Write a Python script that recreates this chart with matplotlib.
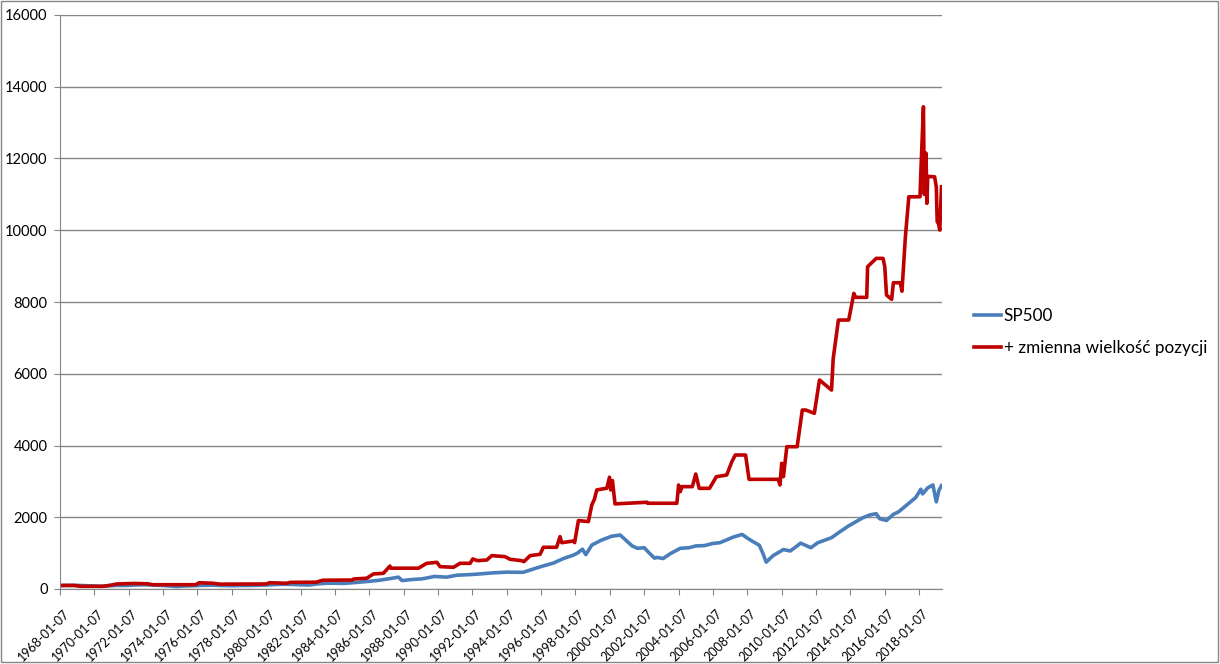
import matplotlib
matplotlib.use("Agg")
import matplotlib.pyplot as plt
from matplotlib.patches import Rectangle
from matplotlib.transforms import ScaledTranslation

plt.rcParams['font.family'] = ['Lato', 'DejaVu Sans']

# dates as decimal years
sp_t = [1968.0, 1968.5, 1969.0, 1969.5, 1970.0, 1970.4, 1970.9, 1971.3, 1971.8, 1972.3, 1972.9,
        1973.4, 1973.9, 1974.4, 1974.8, 1975.3, 1975.8, 1976.3, 1976.9, 1977.4, 1978.0, 1978.6,
        1979.2, 1979.8, 1980.2, 1980.9, 1981.5, 1982.0, 1982.5, 1982.9, 1983.5, 1984.0, 1984.5,
        1985.3, 1985.9, 1986.6, 1987.2, 1987.7, 1987.9, 1988.5, 1989.1, 1989.8, 1990.5, 1991.1,
        1991.8, 1992.3, 1993.2, 1994.0, 1994.95, 1995.5, 1996.1, 1996.7, 1997.3, 1997.8, 1998.1,
        1998.4, 1998.6, 1998.95, 1999.5, 2000.1, 2000.6, 2001.0, 2001.3, 2001.6, 2002.0, 2002.3,
        2002.6, 2002.75, 2003.1, 2003.5, 2004.1, 2004.6, 2005.0, 2005.5, 2006.0, 2006.4, 2006.8,
        2007.2, 2007.7, 2008.0, 2008.3, 2008.7, 2008.9, 2009.1, 2009.5, 2010.1, 2010.5, 2010.9,
        2011.1, 2011.7, 2012.1, 2012.5, 2012.9, 2013.4, 2013.9, 2014.3, 2014.7, 2015.1, 2015.5,
        2015.7, 2016.1, 2016.5, 2016.8, 2017.4, 2017.8, 2018.1, 2018.2, 2018.5, 2018.8, 2019.0,
        2019.15, 2019.3]
sp_v = [95, 100, 102, 92, 85, 75, 90, 100, 98, 110, 118,
        108, 100, 85, 68, 85, 92, 102, 106, 98, 92, 98,
        100, 108, 115, 132, 128, 118, 112, 138, 160, 162, 155,
        185, 210, 245, 290, 330, 235, 265, 285, 350, 330, 385,
        400, 415, 450, 470, 465, 550, 640, 720, 850, 930, 995,
        1110, 960, 1225, 1360, 1470, 1505, 1330, 1200, 1135, 1150, 1000,
        860, 880, 850, 980, 1135, 1150, 1200, 1210, 1270, 1290, 1370,
        1450, 1520, 1420, 1330, 1220, 1000, 750, 930, 1100, 1060, 1200,
        1280, 1150, 1290, 1360, 1430, 1600, 1760, 1870, 1980, 2060, 2100,
        1960, 1910, 2080, 2150, 2390, 2550, 2780, 2650, 2820, 2900, 2430,
        2750, 2880]

red_t = [1968.0, 1968.8, 1969.2, 1970.5, 1971.0, 1971.3, 1972.3, 1973.1, 1973.4, 1975.9,
         1976.1, 1976.9, 1977.3, 1980.0, 1980.2, 1981.2, 1981.4, 1982.9, 1983.3, 1985.0,
         1985.1, 1985.85, 1986.24, 1986.82, 1987.2, 1987.25, 1988.86, 1989.34, 1989.93, 1990.12,
         1990.9, 1991.28, 1991.87, 1992.02, 1992.3, 1992.84, 1993.13, 1993.9, 1994.19, 1994.87,
         1995.0, 1995.36, 1995.94, 1996.13, 1996.9, 1997.1, 1997.2, 1997.88, 1997.95, 1998.17,
         1998.75, 1998.95, 1999.1, 1999.24, 1999.82, 1999.98, 2000.05, 2000.15, 2000.3, 2002.15,
         2002.2, 2003.9, 2004.0, 2004.1, 2004.2, 2004.8, 2005.0, 2005.2, 2005.8, 2006.2,
         2006.8, 2007.1, 2007.3, 2007.9, 2008.1, 2009.8, 2009.9, 2010.0, 2010.1, 2010.3,
         2010.9, 2011.2, 2011.4, 2011.9, 2012.2, 2012.9, 2013.0, 2013.3, 2013.9, 2014.2,
         2014.3, 2014.95, 2015.0, 2015.5, 2015.9, 2016.0, 2016.1, 2016.4, 2016.5, 2016.9,
         2017.0, 2017.2, 2017.3, 2017.4, 2018.05, 2018.1, 2018.25, 2018.3, 2018.4, 2018.45,
         2018.5, 2018.9, 2019.0, 2019.05, 2019.1, 2019.2, 2019.3]
red_v = [100, 100, 75, 75, 110, 140, 155, 145, 120, 120,
         175, 160, 135, 140, 175, 160, 185, 190, 245, 250,
         280, 300, 420, 437, 640, 580, 580, 716, 744, 623,
         605, 716, 716, 837, 790, 809, 930, 902, 828, 790,
         763, 930, 967, 1163, 1163, 1460, 1290, 1339, 1293, 1907,
         1879, 2344, 2500, 2762, 2809, 3116, 2762, 3023, 2372, 2418,
         2390, 2390, 2900, 2714, 2853, 2853, 3205, 2806, 2806, 3130,
         3177, 3548, 3735, 3735, 3057, 3057, 2900, 3503, 3130, 3966,
         3966, 4989, 4989, 4897, 5825, 5546, 6430, 7497, 7497, 8240,
         8130, 8130, 8983, 9216, 9216, 8983, 8194, 8074, 8537, 8537,
         8300, 9819, 10376, 10933, 10933, 11630, 13442, 11000, 12150, 10750,
         11500, 11490, 11200, 10237, 10237, 10005, 11212]

tick_years = list(range(1968, 2019, 2))
tick_labels = [f"{y}-01-07" for y in tick_years]

grey = '#868686'
fig = plt.figure(figsize=(12.2, 6.64), dpi=100)
ax = fig.add_axes([60 / 1220, 1 - 589 / 664, 882 / 1220, 574 / 664])

ax.plot(sp_t, sp_v, color='#4A7EBB', lw=2.6, label='SP500', solid_joinstyle='round')
ax.plot(red_t, red_v, color='#BE0000', lw=2.6, label='+ zmienna wielkość pozycji',
        solid_joinstyle='round')

ax.set_ylim(0, 16000)
ax.set_yticks(range(0, 16001, 2000))
ax.set_xlim(1968.0, 2019.33)
ax.set_xticks(tick_years)
ax.set_xticklabels(tick_labels, rotation=45, ha='right', va='top', rotation_mode='anchor')
ax.grid(axis='y', color=grey, lw=1)
ax.set_axisbelow(True)
for s in ['top', 'right']:
    ax.spines[s].set_visible(False)
for s in ['left', 'bottom']:
    ax.spines[s].set_color(grey)
ax.tick_params(axis='both', colors=grey, labelcolor='black', length=4)
ax.tick_params(axis='x', pad=9, labelsize=9)
ax.tick_params(axis='y', pad=5, labelsize=10.5)
# nudge rotated date labels a little right, as in the original
for lbl in ax.get_xticklabels():
    lbl.set_transform(lbl.get_transform() + ScaledTranslation(0.03, 0, fig.dpi_scale_trans))

ax.legend(loc='center left', bbox_to_anchor=(1.036, 0.448), frameon=False, fontsize=12.3,
          handlelength=1.6, handletextpad=0.15, labelspacing=0.95, borderpad=0,
          borderaxespad=0)

fig.patches.append(Rectangle((0.001, 0.003), 0.997, 0.995, transform=fig.transFigure,
                             fill=False, edgecolor=grey, lw=1))
fig.savefig('out.png', dpi=100)
